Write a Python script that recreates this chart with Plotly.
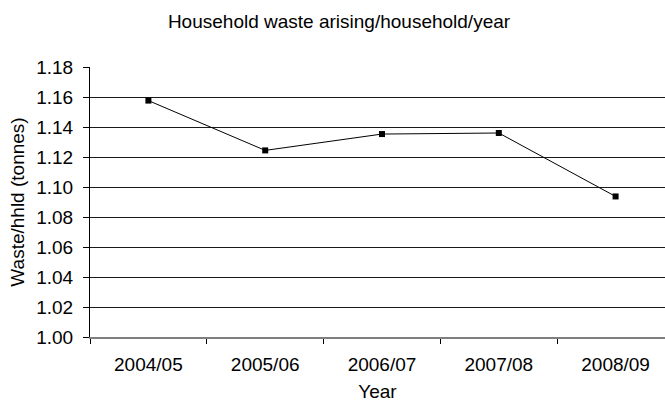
import plotly.graph_objects as go

years = ["2004/05", "2005/06", "2006/07", "2007/08", "2008/09"]
waste_per_household = [1.1576, 1.1244, 1.1353, 1.1360, 1.0937]
title_text = "Household waste arising/household/year"
x_title = "Year"
y_title = "Waste/hhld (tonnes)"

FONT = "Arial, 'Liberation Sans', sans-serif"

fig = go.Figure()
fig.add_trace(go.Scatter(
    x=years, y=waste_per_household, mode="lines+markers",
    line=dict(color="#000000", width=1),
    marker=dict(symbol="square", size=6, color="#000000"),
    showlegend=False, cliponaxis=False,
))

fig.update_layout(
    width=665, height=403,
    margin=dict(l=90, r=0, t=67, b=66),
    paper_bgcolor="white", plot_bgcolor="white",
    font=dict(family=FONT, size=19, color="#000000"),
    title=dict(text=title_text, x=339/665, xref="container", xanchor="center",
               y=1-21/403, yref="container", yanchor="middle",
               font=dict(family=FONT, size=19, color="#000000")),
)
fig.update_xaxes(
    type="category", range=[-0.5, 4.423],
    tickson="boundaries", ticks="outside", ticklen=5, tickcolor="#000000",
    ticklabelstandoff=9,
    showgrid=False, showline=True, linecolor="#7f7f7f", linewidth=2,
    title=dict(text=x_title, standoff=11, font=dict(size=19)),
    tickfont=dict(size=19),
)
fig.update_yaxes(
    range=[1.0, 1.18], dtick=0.02, tick0=1.0, tickformat=".2f",
    ticks="outside", ticklen=6, tickcolor="#000000",
    ticklabelstandoff=6,
    showgrid=True, gridcolor="#1a1a1a", gridwidth=1, zeroline=False,
    showline=True, linecolor="#000000", linewidth=1,
    title=dict(text=y_title, standoff=6, font=dict(size=19)),
    tickfont=dict(size=19),
)

fig.write_html("out.html")
